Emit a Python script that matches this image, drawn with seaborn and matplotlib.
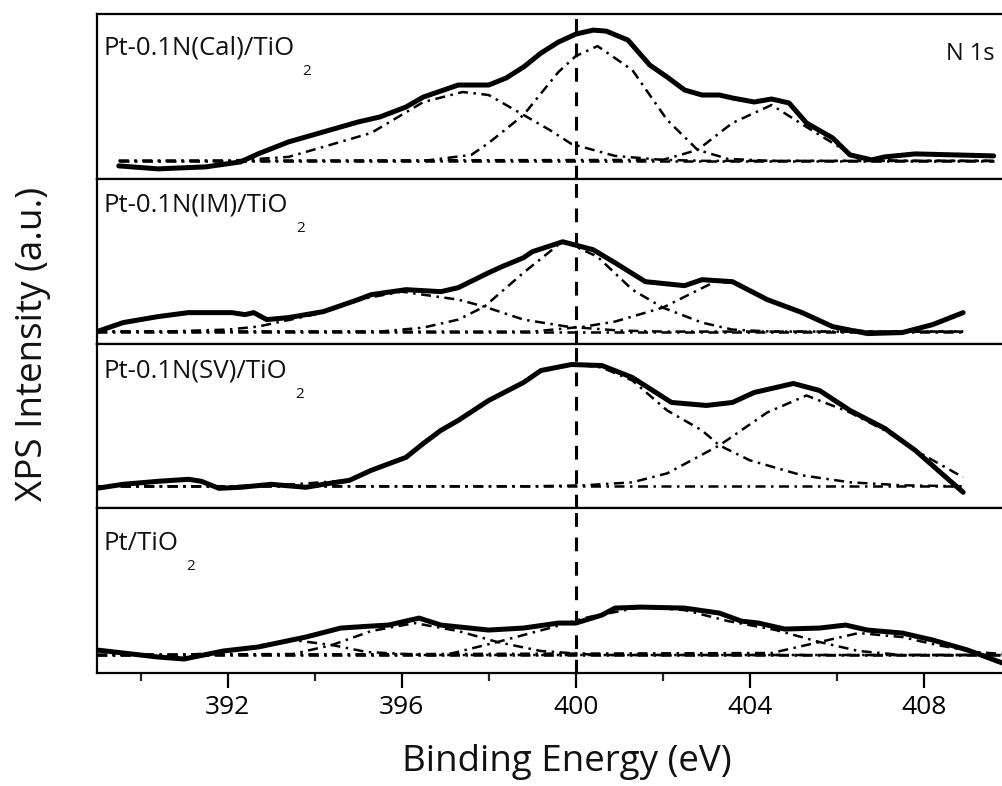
import matplotlib
matplotlib.use("Agg")
import matplotlib.pyplot as plt
import seaborn as sns
import pandas as pd

# ---------------- data (binding energy eV, intensity a.u.) ----------------
panel_names = ["Pt-0.1N(Cal)/TiO", "Pt-0.1N(IM)/TiO", "Pt-0.1N(SV)/TiO", "Pt/TiO"]

# Panel 1: Pt-0.1N(Cal)/TiO2
cal_exp_ev = [389.5, 390.4, 391.5, 392.3, 392.7, 393.4, 394.2, 395.0, 395.5, 396.1, 396.5, 397.3,
              398.0, 398.4, 398.8, 399.2, 399.6, 400.0, 400.4, 400.7, 401.2, 401.7, 402.1, 402.5,
              402.9, 403.3, 403.6, 404.1, 404.5, 404.9, 405.3, 405.9, 406.3, 406.8, 407.1, 407.8, 409.6]
cal_exp_int = [13, 10, 12, 17, 25, 37, 47, 57, 62, 72, 82, 94,
               94, 101, 112, 126, 137, 145, 149, 148, 139, 114, 102, 89,
               84, 84, 81, 77, 80, 76, 56, 41, 24, 19, 22, 25, 23]
cal_c1_ev = [389.5, 392.0, 393.4, 394.2, 395.3, 396.5, 397.4, 398.0, 398.8, 399.4, 399.9, 400.9, 402.0, 403.0, 409.6]
cal_c1_int = [18, 18, 22, 32, 46, 77, 87, 84, 64, 49, 35, 23, 19, 18, 18]
cal_c2_ev = [389.5, 396.5, 397.6, 398.0, 398.8, 399.6, 400.0, 400.5, 401.3, 402.1, 402.8, 403.5, 404.5, 409.6]
cal_c2_int = [18, 18, 24, 36, 64, 107, 123, 133, 109, 59, 29, 20, 18, 18]
cal_c3_ev = [389.5, 402.0, 402.8, 403.6, 404.5, 405.3, 405.9, 406.5, 407.5, 409.6]
cal_c3_int = [18, 19, 29, 56, 74, 52, 36, 20, 18, 18]
cal_base_ev = [389.5, 409.6]
cal_base_int = [18, 18]

# Panel 2: Pt-0.1N(IM)/TiO2
im_exp_ev = [389.0, 389.6, 390.4, 391.1, 392.1, 392.4, 392.6, 392.9, 393.4, 394.2, 395.0, 395.3,
             396.1, 396.9, 397.3, 398.0, 398.3, 398.8, 399.0, 399.7, 400.4, 400.9, 401.6, 402.5,
             402.9, 403.6, 404.4, 405.2, 405.9, 406.7, 407.5, 408.2, 408.9]
im_exp_int = [12, 21, 27, 31, 31, 29, 31, 24, 26, 32, 44, 49,
              54, 52, 56, 71, 77, 86, 92, 102, 94, 81, 62, 58,
              64, 62, 44, 31, 17, 10, 11, 19, 31]
im_c1_ev = [389.0, 390.5, 392.0, 392.7, 394.2, 395.0, 396.0, 397.3, 397.9, 398.8, 399.8, 401.0, 402.0, 408.9]
im_c1_int = [12, 12, 14, 17, 31, 44, 52, 44, 37, 24, 17, 13, 12, 12]
im_c2_ev = [389.0, 395.5, 396.5, 397.3, 397.9, 398.8, 399.6, 399.8, 400.5, 401.3, 402.0, 402.9, 403.6, 404.5, 408.9]
im_c2_int = [12, 12, 16, 24, 37, 71, 99, 101, 87, 54, 36, 21, 14, 12, 12]
im_c3_ev = [389.0, 399.0, 400.2, 400.9, 402.0, 403.2, 403.6, 404.4, 405.2, 405.9, 406.7, 408.9]
im_c3_int = [12, 12, 17, 22, 36, 62, 61, 44, 31, 17, 12, 12]
im_base_ev = [389.0, 408.9]
im_base_int = [12, 12]

# Panel 3: Pt-0.1N(SV)/TiO2
sv_exp_ev = [389.0, 389.6, 390.4, 391.1, 391.4, 391.8, 392.3, 393.0, 393.8, 394.2, 394.8, 395.3,
             396.1, 396.5, 396.9, 397.3, 398.0, 398.8, 399.2, 399.9, 400.6, 401.3, 402.2, 403.0,
             403.6, 404.1, 405.0, 405.6, 406.3, 407.1, 407.8, 408.9]
sv_exp_int = [20, 24, 27, 29, 27, 20, 21, 24, 21, 24, 28, 38,
              51, 65, 78, 88, 108, 126, 138, 144, 143, 131, 106, 103,
              106, 116, 125, 118, 98, 80, 58, 16]
sv_c1_ev = [389.0, 392.0, 393.5, 394.8, 395.3, 396.1, 396.9, 398.0, 398.8, 399.2, 400.0, 400.6,
            401.3, 402.1, 402.9, 403.3, 404.0, 405.2, 406.3, 407.5, 408.9]
sv_c1_int = [22, 22, 24, 28, 38, 51, 78, 108, 126, 138, 144, 141,
             128, 98, 78, 63, 48, 33, 26, 23, 22]
sv_c2_ev = [389.0, 399.0, 400.2, 401.3, 402.1, 403.3, 404.4, 405.3, 406.3, 407.1, 407.8, 408.9]
sv_c2_int = [22, 22, 23, 26, 35, 63, 96, 113, 96, 78, 58, 31]
sv_base_ev = [389.0, 408.9]
sv_base_int = [22, 22]

# Panel 4: Pt/TiO2
pt_exp_ev = [389.0, 389.6, 390.4, 391.0, 391.9, 392.7, 393.8, 394.6, 395.3, 395.7, 396.4, 396.9,
             398.0, 398.8, 399.6, 400.0, 400.6, 400.9, 401.5, 402.5, 403.3, 403.8, 404.2, 404.8,
             405.6, 406.2, 406.7, 407.5, 408.2, 409.0, 409.8]
pt_exp_int = [23, 20, 16, 14, 22, 26, 36, 45, 47, 48, 55, 48,
              43, 45, 50, 50, 58, 65, 66, 65, 60, 52, 50, 44,
              45, 48, 43, 40, 33, 23, 10]
pt_c1_ev = [389.0, 391.0, 392.0, 392.8, 393.5, 394.4, 395.2, 396.5, 409.8]
pt_c1_int = [18, 18, 21, 28, 33, 28, 21, 18, 18]
pt_c2_ev = [389.0, 393.5, 394.4, 395.3, 396.3, 397.3, 398.2, 399.2, 400.5, 409.8]
pt_c2_int = [18, 19, 28, 42, 50, 42, 31, 22, 18, 18]
pt_c3_ev = [389.0, 397.0, 398.2, 399.4, 400.3, 401.5, 402.5, 403.5, 404.6, 405.6, 406.5, 407.5, 409.8]
pt_c3_int = [18, 18, 31, 45, 56, 66, 63, 52, 43, 31, 22, 18, 18]
pt_c4_ev = [389.0, 404.5, 405.6, 406.5, 407.5, 408.3, 409.2, 409.8]
pt_c4_int = [18, 20, 31, 40, 36, 28, 21, 19]
pt_base_ev = [389.0, 409.8]
pt_base_int = [18, 18]

ref_energy = 400.0
major_ticks = [392, 396, 400, 404, 408]
minor_ticks = [390, 394, 398, 402, 406, 410]

panels = [
    dict(exp=(cal_exp_ev, cal_exp_int),
         comps=[(cal_c1_ev, cal_c1_int), (cal_c2_ev, cal_c2_int), (cal_c3_ev, cal_c3_int)],
         base=(cal_base_ev, cal_base_int), label_y=0.752),
    dict(exp=(im_exp_ev, im_exp_int),
         comps=[(im_c1_ev, im_c1_int), (im_c2_ev, im_c2_int), (im_c3_ev, im_c3_int)],
         base=(im_base_ev, im_base_int), label_y=0.80),
    dict(exp=(sv_exp_ev, sv_exp_int),
         comps=[(sv_c1_ev, sv_c1_int), (sv_c2_ev, sv_c2_int)],
         base=(sv_base_ev, sv_base_int), label_y=0.793),
    dict(exp=(pt_exp_ev, pt_exp_int),
         comps=[(pt_c1_ev, pt_c1_int), (pt_c2_ev, pt_c2_int), (pt_c3_ev, pt_c3_int), (pt_c4_ev, pt_c4_int)],
         base=(pt_base_ev, pt_base_int), label_y=0.745),
]

# ---------------- styling ----------------
sns.set_theme(style="ticks")
plt.rcParams['font.family'] = ['Open Sans', 'DejaVu Sans']
plt.rcParams['axes.linewidth'] = 1.6

fig, axes = plt.subplots(4, 1, sharex=True, figsize=(10.02, 7.86), dpi=100,
                         gridspec_kw=dict(hspace=0))
fig.subplots_adjust(left=0.0968, right=1.0090, bottom=0.1438, top=0.982)

comp_style = (0, (4, 2.2, 1, 2.2))
base_style = (0, (4, 2.2, 1, 2.2))

for i, (ax, p) in enumerate(zip(axes, panels)):
    ax.set_facecolor("white")
    for (ev, it) in p["comps"]:
        df = pd.DataFrame({"ev": ev, "int": it})
        sns.lineplot(data=df, x="ev", y="int", ax=ax, color="black", lw=1.8,
                     linestyle=comp_style, estimator=None, sort=False)
    bdf = pd.DataFrame({"ev": p["base"][0], "int": p["base"][1]})
    sns.lineplot(data=bdf, x="ev", y="int", ax=ax, color="black", lw=1.8,
                 linestyle=base_style, estimator=None, sort=False)
    edf = pd.DataFrame({"ev": p["exp"][0], "int": p["exp"][1]})
    sns.lineplot(data=edf, x="ev", y="int", ax=ax, color="black", lw=3.6,
                 estimator=None, sort=False, solid_joinstyle="round")
    ax.axvline(ref_energy, color="black", lw=2.2, linestyle=(0, (4.5, 3.5)))
    ax.set_ylim(0, 165)
    ax.set_xlim(389, 410)
    ax.set_ylabel("")
    ax.set_xlabel("")
    ax.set_yticks([])
    for s in ax.spines.values():
        s.set_linewidth(1.6)
        s.set_color("black")
    t = ax.annotate(panel_names[i], xy=(0.0066, p["label_y"]), xycoords="axes fraction",
                    ha="left", va="baseline", fontsize=18.5, color="#111111")
    ax.annotate("2", xy=(1, 0), xycoords=t, xytext=(6, -10), textcoords="offset points",
                ha="left", va="baseline", fontsize=11, color="#111111")
    if i < 3:
        ax.tick_params(axis="x", which="both", bottom=False, labelbottom=False)

axes[0].text(0.982, 0.72, "N 1s", transform=axes[0].transAxes, ha="right",
             va="baseline", fontsize=17, color="#111111")

axb = axes[3]
axb.set_xticks(major_ticks)
axb.set_xticks(minor_ticks, minor=True)
axb.tick_params(axis="x", which="major", direction="out", length=11, width=1.6,
                labelsize=19, pad=5, colors="black")
axb.tick_params(axis="x", which="minor", direction="out", length=6, width=1.6)

fig.text(0.566, 0.030, "Binding Energy (eV)", ha="center", va="center", fontsize=26.5, color="#111111")
fig.text(0.033, 0.563, "XPS Intensity (a.u.)", ha="center", va="center", rotation=90,
         fontsize=26.5, color="#111111")

fig.savefig("out.png", dpi=100, facecolor="white")
